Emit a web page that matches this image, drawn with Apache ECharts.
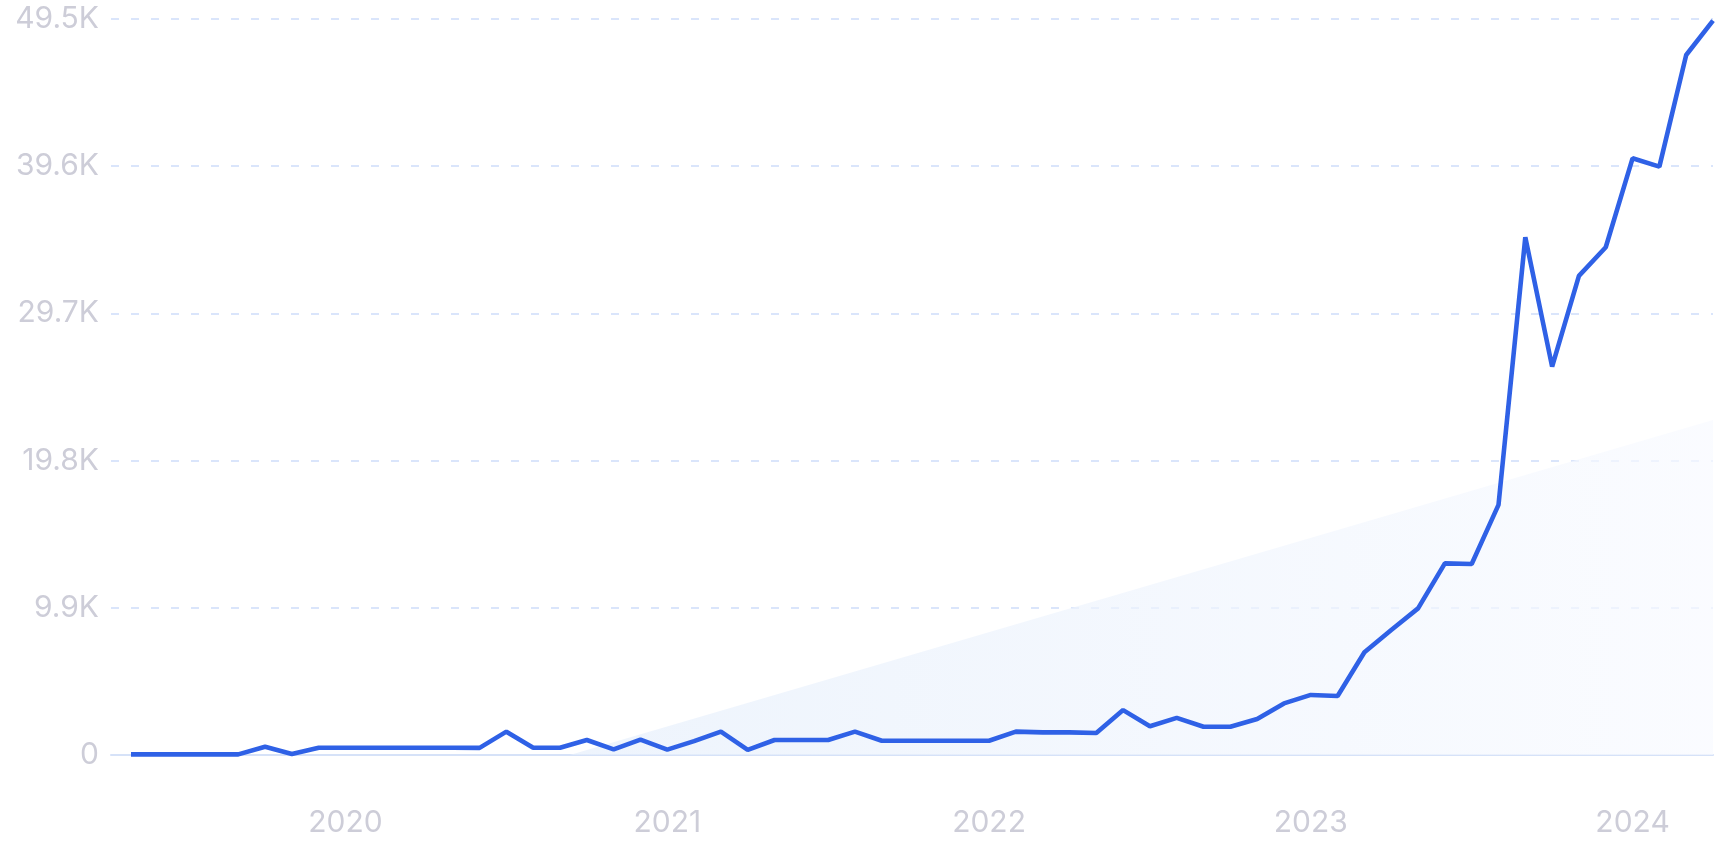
<!DOCTYPE html>
<html>
<head>
<meta charset="utf-8">
<style>
  html, body { margin: 0; padding: 0; background: #ffffff; }
  #chart { width: 1720px; height: 860px; }
</style>
<script src="https://cdn.jsdelivr.net/npm/echarts@6/dist/echarts.min.js"></script>
</head>
<body>
<div id="chart"></div>
<script>
// Months (May 2019 – Apr 2024)
const months = [
  '2019-05','2019-06','2019-07','2019-08','2019-09','2019-10','2019-11','2019-12',
  '2020-01','2020-02','2020-03','2020-04','2020-05','2020-06','2020-07','2020-08','2020-09','2020-10','2020-11','2020-12',
  '2021-01','2021-02','2021-03','2021-04','2021-05','2021-06','2021-07','2021-08','2021-09','2021-10','2021-11','2021-12',
  '2022-01','2022-02','2022-03','2022-04','2022-05','2022-06','2022-07','2022-08','2022-09','2022-10','2022-11','2022-12',
  '2023-01','2023-02','2023-03','2023-04','2023-05','2023-06','2023-07','2023-08','2023-09','2023-10','2023-11','2023-12',
  '2024-01','2024-02','2024-03','2024-04'
];
// Search volume per month
const volume = [
  40, 40, 40, 40, 40, 560, 70, 490,
  490, 490, 490, 490, 490, 480, 1570, 490, 490, 1010, 380, 1030,
  360, 930, 1570, 340, 1010, 1010, 1010, 1570, 960, 960, 960, 960,
  960, 1570, 1520, 1520, 1480, 3020, 1930, 2500, 1900, 1900, 2420, 3470,
  4040, 3970, 6910, 8410, 9860, 12890, 12850, 16820, 34820, 26120, 32220, 34150,
  40130, 39570, 47080, 49390
];
// Trend line end points (first month, last month)
const trendMonths = ['2019-05', '2024-04'];
const trendValues = [-8650, 22530];
// Axis ticks
const yearTicks = [2020, 2021, 2022, 2023, 2024];
const yTicks = [0, 9900, 19800, 29700, 39600, 49500];

function toYear(s) {
  const p = s.split('-');
  return Number(p[0]) + (Number(p[1]) - 1) / 12;
}

const lineData = months.map((m, i) => [toYear(m), volume[i]]);
const trendData = trendMonths.map((m, i) => [toYear(m), trendValues[i]]);

const chart = echarts.init(document.getElementById('chart'), null, { renderer: 'canvas' });
const labelColor = '#CDCDD8';
const fontFamily = 'Inter, "Noto Sans", sans-serif';

chart.setOption({
  animation: false,
  backgroundColor: '#ffffff',
  grid: { left: 111, right: 7, top: 19, bottom: 105, containLabel: false },
  xAxis: {
    type: 'value',
    min: toYear(months[0]) - 0.746 / 12,
    max: toYear(months[months.length - 1]),
    axisLine: { show: true, lineStyle: { color: '#D6E2F8', width: 2 } },
    axisTick: { show: false },
    splitLine: { show: false },
    axisLabel: {
      customValues: yearTicks,
      formatter: v => String(Math.round(v)),
      color: labelColor,
      fontFamily: fontFamily,
      fontSize: 30,
      fontWeight: 400,
      margin: 53
    }
  },
  yAxis: {
    type: 'value',
    min: yTicks[0],
    max: yTicks[yTicks.length - 1],
    interval: yTicks[1] - yTicks[0],
    axisLine: { show: false },
    axisTick: { show: false },
    splitLine: {
      show: true,
      lineStyle: { color: '#DAE5FB', width: 2, type: [8, 12] }
    },
    axisLabel: {
      formatter: v => v === 0 ? '0' : (v / 1000).toFixed(1) + 'K',
      color: labelColor,
      fontFamily: fontFamily,
      fontSize: 30,
      fontWeight: 400,
      margin: 12
    }
  },
  series: [
    {
      type: 'line',
      data: trendData,
      symbol: 'none',
      silent: true,
      lineStyle: { width: 0, opacity: 0 },
      areaStyle: {
        origin: 'start',
        color: {
          type: 'linear', x: 0, y: 0, x2: 1, y2: 0,
          colorStops: [
            { offset: 0, color: '#E0EBFB' },
            { offset: 0.4, color: '#E9F1FC' },
            { offset: 1, color: '#F8FAFF' }
          ]
        }
      },
      z: 1
    },
    {
      type: 'line',
      data: lineData,
      symbol: 'none',
      lineStyle: { color: '#2F61E6', width: 4.6 },
      z: 3
    }
  ]
});
</script>
</body>
</html>
